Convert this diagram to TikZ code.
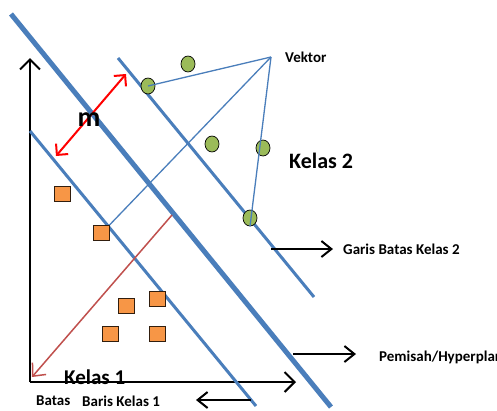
\documentclass[tikz,border=0pt]{standalone}
\usepackage{fontspec}
\setmainfont{Carlito}
\usetikzlibrary{arrows.meta,shapes.geometric}
\definecolor{lineblue}{HTML}{4A7EBB}
\definecolor{ptgreen}{HTML}{9BBB59}
\definecolor{ptorange}{HTML}{F79646}
\definecolor{brownred}{HTML}{C0504D}
\tikzset{
  hyper/.style={draw=lineblue,line width=5pt},
  margin/.style={draw=lineblue,line width=3pt},
  vecline/.style={draw=lineblue,line width=1.3pt},
  axisline/.style={draw=black,line width=2pt,-{Straight Barb[length=10pt,width=20pt,line width=2pt]}},
  pointer/.style={draw=black,line width=2pt,-{Straight Barb[length=10pt,width=16pt,line width=2pt]}},
  marginarrow/.style={draw=red,line width=2pt,{Straight Barb[length=8pt,width=16pt,line width=2pt]}-{Straight Barb[length=8pt,width=16pt,line width=2pt]}},
  normalarrow/.style={draw=brownred,line width=1.5pt,-{Straight Barb[length=10pt,width=18pt,line width=1.5pt]}},
  gpt/.style={ellipse,draw=black,line width=0.7pt,fill=ptgreen,minimum width=14pt,minimum height=16pt,inner sep=0pt},
  opt/.style={rectangle,draw=black!80!ptorange,line width=1pt,fill=ptorange,minimum width=16pt,minimum height=15pt,inner sep=0pt},
  lbl/.style={font=\bfseries\fontsize{15}{17}\selectfont,inner sep=0pt,anchor=west},
  biglbl/.style={font=\bfseries\fontsize{22}{26}\selectfont,inner sep=0pt},
}
\begin{document}
\begin{tikzpicture}[x=1pt,y=-1pt]
\useasboundingbox (0,0) rectangle (497,410);
\fill[white] (0,0) rectangle (497,410);
\begin{scope}
\clip (0,0) rectangle (497,410);
% coordinates
\coordinate (origin) at (30,382);
\coordinate (ytop) at (30,58);
\coordinate (xend) at (296,382);
\coordinate (h1) at (11,14);
\coordinate (h2) at (331,407);
\coordinate (u1) at (118,58);
\coordinate (u2) at (314,297);
\coordinate (l1) at (30,131);
\coordinate (l2) at (256,406);
\coordinate (v) at (271,57);
\coordinate (mA) at (56,156);
\coordinate (mB) at (126,74);
\coordinate (nstart) at (172,215);
\coordinate (nend) at (32,377);
\coordinate (p1s) at (271,249);
\coordinate (p1e) at (333,249);
\coordinate (p2s) at (293,354);
\coordinate (p2e) at (356,354);
\coordinate (p3s) at (251,400);
\coordinate (p3e) at (196,400);
% axes
\draw[axisline] (origin) -- (ytop);
\draw[axisline] (origin) -- (xend);
% separating lines
\draw[hyper] (h1) -- (h2);
\draw[margin] (u1) -- (u2);
\draw[margin] (l1) -- (l2);
% points
\node[gpt] (g1) at (148,86) {};
\node[gpt] (g2) at (188,64) {};
\node[gpt] (g3) at (212,144) {};
\node[gpt] (g4) at (263,148) {};
\node[gpt] (g5) at (250,218) {};
\node[opt] (s1) at (62,194) {};
\node[opt] (s2) at (101,233) {};
\node[opt] (s3) at (126,306) {};
\node[opt] (s4) at (157,299) {};
\node[opt] (s5) at (110,334) {};
\node[opt] (s6) at (157,334) {};
% support vector lines
\draw[vecline] (v) -- (g1.center);
\draw[vecline] (v) -- (s2.north east);
\draw[vecline] (v) -- (g5.south);
% margin arrow and normal
\draw[marginarrow] (mA) -- (mB);
\draw[normalarrow] (nstart) -- (nend);
% pointers
\draw[pointer] (p1s) -- (p1e);
\draw[pointer] (p2s) -- (p2e);
\draw[pointer] (p3s) -- (p3e);
% labels
\node[biglbl,font=\bfseries\fontsize{28}{32}\selectfont] (m) at (89,120) {m};
\node[lbl] (vek) at (285,57) {Vektor};
\node[biglbl,anchor=west] (k2) at (289,161) {Kelas 2};
\node[lbl] (gb) at (343,249) {Garis Batas Kelas 2};
\node[lbl] (pm) at (379,357) {Pemisah/Hyperplane};
\node[biglbl,anchor=base west,font=\bfseries\fontsize{21}{24}\selectfont] (k1) at (64,384) {Kelas 1};
\node[lbl] (bt) at (36,401) {Batas};
\node[lbl] (bk) at (82,401) {Baris Kelas 1};
\end{scope}
\end{tikzpicture}
\end{document}
